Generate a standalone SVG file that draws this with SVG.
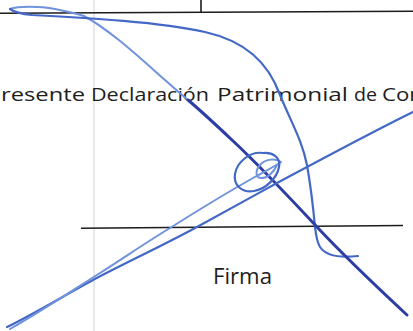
<svg xmlns="http://www.w3.org/2000/svg" width="413" height="331" viewBox="0 0 413 331">
  <style>
    .rule { stroke: #1c1c1c; stroke-width: 1.6; fill: none; }
    .grid { stroke: #cfd3da; stroke-width: 1; fill: none; }
    .txt { font-family: "Open Sans", "Liberation Sans", sans-serif; fill: #1e1e1e; }
    .ink { fill: none; stroke-linecap: round; stroke-linejoin: round; }
    .dark { stroke: #2c3ea6; stroke-width: 3; }
    .mid { stroke: #4468c6; stroke-width: 2.2; }
    .light { stroke: #7093dc; stroke-width: 2; }
  </style>
  <rect width="413" height="331" fill="#ffffff"/>

  <!-- form lines -->
  <line class="grid" x1="94" y1="0" x2="94" y2="331"/>
  <line class="rule" x1="0" y1="13.3" x2="413" y2="11.3"/>
  <line class="rule" x1="201" y1="0" x2="201" y2="12"/>
  <line class="rule" x1="81" y1="228.3" x2="403" y2="225.5" stroke-width="2"/>

  <!-- texts -->
  <text class="txt" y="100.5" font-size="18">
    <tspan x="1" textLength="84" lengthAdjust="spacingAndGlyphs">resente</tspan>
    <tspan x="91" textLength="118" lengthAdjust="spacingAndGlyphs">Declaración</tspan>
    <tspan x="217" textLength="131" lengthAdjust="spacingAndGlyphs">Patrimonial</tspan>
    <tspan x="354" textLength="23" lengthAdjust="spacingAndGlyphs">de</tspan>
    <tspan x="382" textLength="41" lengthAdjust="spacingAndGlyphs">Con</tspan>
  </text>
  <text class="txt" x="213" y="283.5" font-size="21" textLength="59" lengthAdjust="spacingAndGlyphs">Firma</text>

  <!-- signature -->
  <g id="signature">
    <!-- light stroke from top-left loop down to the text -->
    <path class="ink light" d="M10,9 C18,6 40,6 55,9 C65,11 75,13 84,16 C110,30 140,58 165,80 C175,89 182,95 188,100"/>
    <!-- big arc from top-left down to bottom line, ending in a hook -->
    <path class="ink mid" d="M10,9 C14,12 22,14 32,15 C90,18 160,22 205,32 C245,41 268,62 280,95 C291,122 302,140 307,165 C311,188 313,205 315,227 C316,236 317,242 320,247 C326,256 340,258 358,256"/>
    <!-- dark main stroke -->
    <path class="ink dark" d="M188,100 C200,110 215,124 232,140 C262,168 290,198 317,227 C345,257 378,288 407,315"/>
    <!-- long diagonal A -->
    <path class="ink mid" d="M413,112 C380,128 320,160 277,183 C250,198 222,213 197,227 C160,247 125,263 93,280 C60,298 30,316 7,327"/>
    <!-- long diagonal B into inner loop -->
    <path class="ink light" d="M10,329 C40,312 70,292 100,273 C125,257 150,240 170,228 C200,209 230,191 253,178 C262,173 272,168 281,162 C276,158 266,159 261,164 C255,170 255,177 261,178 C267,179 274,172 277,165"/>
    <!-- big loop -->
    <path class="ink mid" d="M263,153 C250,151 237,162 235,174 C233,186 243,193 254,191 C266,189 277,178 279,167 C281,157 272,152 263,153"/>
  </g>
</svg>
